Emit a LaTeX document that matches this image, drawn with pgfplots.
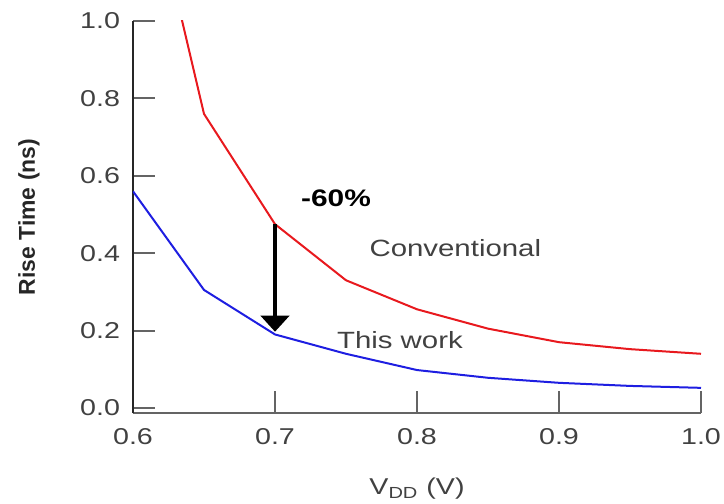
\documentclass[border=0pt]{standalone}
\usepackage{fontspec}
\setmainfont{Liberation Sans}[FakeStretch=1.25]
\newfontfamily\ylabfont{Liberation Sans}
\usepackage{pgfplots}
\pgfplotsset{compat=1.18}
\usetikzlibrary{arrows.meta}
\definecolor{tickgray}{RGB}{100,100,100}
\definecolor{labgray}{RGB}{65,65,65}
\definecolor{cred}{RGB}{232,25,30}
\definecolor{cblue}{RGB}{30,30,225}
\begin{document}
\begin{tikzpicture}
\begin{axis}[
  scale only axis,
  width=284bp, height=196bp,
  xmin=0.6, xmax=1.0,
  ymin=-0.013, ymax=1.0,
  axis x line=bottom, axis y line=left,
  x axis line style={tickgray, line width=1.3bp, -},
  y axis line style={black!85, line width=1.1bp, -},
  tick align=inside,
  major tick length=11bp,
  every tick/.style={tickgray, line width=1bp},
  xtick={0.6,0.7,0.8,0.9,1.0},
  ytick={0,0.2,0.4,0.6,0.8,1.0},
  /pgf/number format/assume math mode=true,
  xticklabel style={/pgf/number format/fixed, /pgf/number format/fixed zerofill, /pgf/number format/precision=1, yshift=-4bp},
  yticklabel style={/pgf/number format/fixed, /pgf/number format/fixed zerofill, /pgf/number format/precision=1, xshift=-3bp},
  tick label style={font=\fontsize{11.5}{13}\selectfont, text=labgray},
  xlabel={V\textsubscript{DD} (V)},
  ylabel={\ylabfont\bfseries Rise Time (ns)},
  x label style={at={(axis description cs:0.5,0)}, anchor=center, yshift=-38bp, font=\fontsize{11.5}{13}\selectfont, text=labgray},
  y label style={at={(axis description cs:0,0.5)}, anchor=center, yshift=52bp, font=\fontsize{11.5}{13}\selectfont, text=black!85},
]
\addplot[cred, line width=1bp] coordinates {
  (0.6,1.54) (0.65,0.76) (0.7,0.475) (0.75,0.33) (0.8,0.255) (0.85,0.205) (0.9,0.17) (0.95,0.152) (1.0,0.14)
};
\addplot[cblue, line width=1bp] coordinates {
  (0.6,0.56) (0.65,0.305) (0.7,0.19) (0.75,0.14) (0.8,0.098) (0.85,0.078) (0.9,0.065) (0.95,0.057) (1.0,0.052)
};
\draw[black, line width=2.2bp, -{Triangle[width=14bp,length=8bp]}] (axis cs:0.7,0.475) -- (axis cs:0.7,0.197);
\node[font=\fontsize{12}{14}\selectfont\bfseries, text=black] at (axis cs:0.743,0.542) {-60\%};
\node[font=\fontsize{11.8}{14}\selectfont, text=labgray] at (axis cs:0.827,0.413) {Conventional};
\node[font=\fontsize{11.8}{14}\selectfont, text=labgray] at (axis cs:0.788,0.175) {This work};
\end{axis}
\pgfresetboundingbox
\useasboundingbox (-66.5bp,-45.5bp) rectangle (295.5bp,206.5bp);
\end{tikzpicture}
\end{document}
